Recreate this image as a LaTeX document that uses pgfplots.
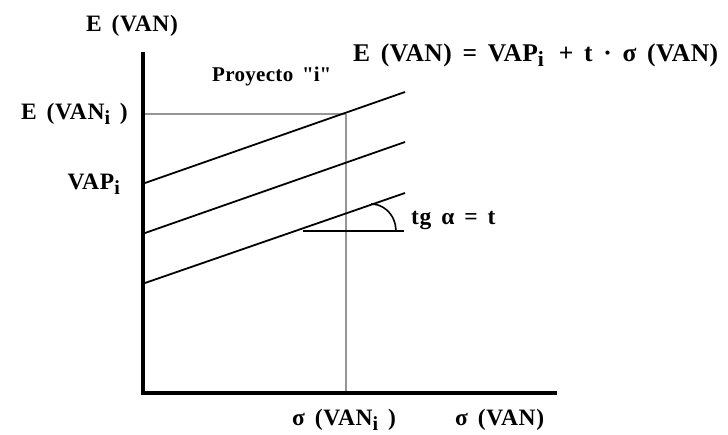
\documentclass[border=0pt]{standalone}
\usepackage{fontspec}
\setmainfont{Liberation Serif}
\usepackage{graphicx}
\usepackage{pgfplots}
\pgfplotsset{compat=1.18}
\newcommand{\sub}[1]{\raisebox{-0.4ex}{\scalebox{0.85}{#1}}}
\newcommand{\s}{\hspace{0.42em}}
\newcommand{\lab}{\bfseries\fontsize{23.5}{27}\selectfont\addfontfeature{LetterSpace=3}}
\newcommand{\labf}{\bfseries\fontsize{25.5}{29}\selectfont\addfontfeature{LetterSpace=2}}
\newcommand{\labp}{\bfseries\fontsize{21}{25}\selectfont\addfontfeature{LetterSpace=1.5}}
\definecolor{guide}{RGB}{150,150,150}
\begin{document}
\begin{tikzpicture}
\begin{axis}[x=1pt,y=1pt,xmin=-143,xmax=585,ymin=-42,ymax=393,
  hide axis,clip=false,no markers]
\path (axis cs:-143,-42) rectangle (axis cs:585,393);
% guide lines
\addplot[guide,line width=1.4pt] coordinates {(2,279) (203,279)};
\addplot[guide,line width=1.4pt] coordinates {(203,279) (203,1)};
% parallel lines
\addplot[black,line width=1.8pt] coordinates {(2,210) (262,301)};
\addplot[black,line width=1.8pt] coordinates {(2,160) (262,251)};
\addplot[black,line width=1.8pt] coordinates {(2,110) (262,200)};
% angle
\addplot[black,line width=1.8pt] coordinates {(160,162) (261,162)};
\addplot[black,line width=1.6pt,smooth] coordinates {(253,162) (252.1,169.0) (249.7,175.5) (245.7,181.1) (240.5,185.4) (234.5,188.1) (228,189)};
% axes
\addplot[black,line width=3.5pt,line join=miter] coordinates {(0,341) (0,0) (414,0)};
% labels
\node[inner sep=0pt,anchor=base,font=\lab] at (axis cs:-11,361) {E\s(VAN)};
\node[inner sep=0pt,anchor=base east,font=\lab] at (axis cs:-15,273) {E\s(VAN\sub{i}\s)};
\node[inner sep=0pt,anchor=base east,font=\lab] at (axis cs:-23,203) {VAP\sub{i}};
\node[inner sep=0pt,anchor=base west,font=\labp] at (axis cs:69,311) {Proyecto\s\textquotedbl i\textquotedbl};
\node[inner sep=0pt,anchor=base west,font=\labf] at (axis cs:210,331) {E\s(VAN)\s=\s VAP\sub{i}\s\,+\s t\s·\s σ\s(VAN)};
\node[inner sep=0pt,anchor=base west,font=\lab] at (axis cs:268,168) {tg\s α\s=\s t};
\node[inner sep=0pt,anchor=base west,font=\lab] at (axis cs:149,-33) {σ\s(VAN\sub{i}\s)};
\node[inner sep=0pt,anchor=base west,font=\lab] at (axis cs:312,-33) {σ\s(VAN)};
\end{axis}
\end{tikzpicture}
\end{document}
